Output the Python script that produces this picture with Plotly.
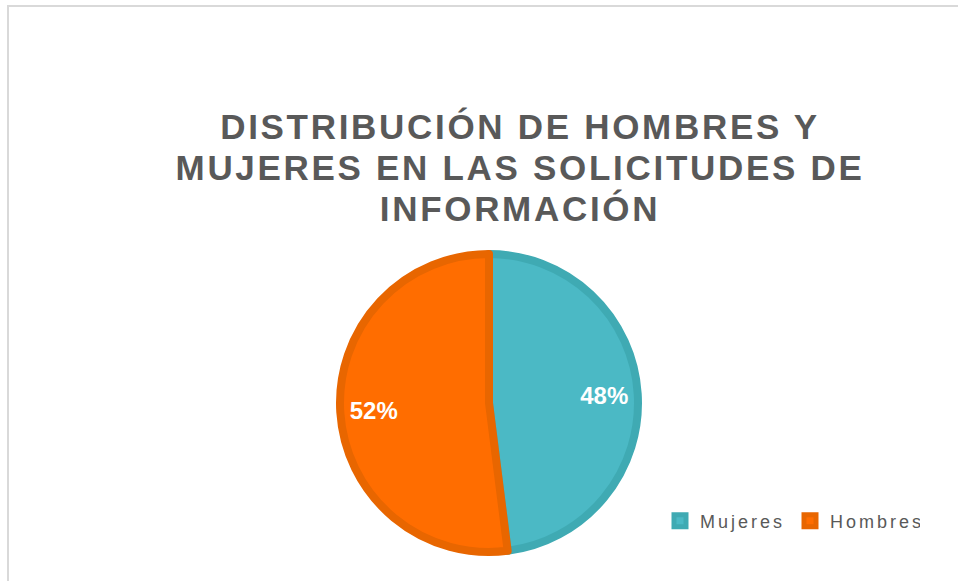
import plotly.graph_objects as go

labels = ["Mujeres", "Hombres"]
values = [48, 52]
fill_colors = ["#4BB9C5", "#FF6D00"]
edge_colors = ["#3FAAB3", "#E86600"]

TITLE = "DISTRIBUCIÓN DE HOMBRES Y<br>MUJERES EN LAS SOLICITUDES DE<br>INFORMACIÓN"
TEXT_GREY = "#595959"
W, H = 958, 581

# pie centre (489, 403) px, radius 149 px
cx, cy, r = 489, 403, 149
pie_domain = dict(
    x=[(cx - r) / W, (cx + r) / W],
    y=[(H - cy - r) / H, (H - cy + r) / H],
)

fig = go.Figure()
# filled slices + legend
fig.add_trace(
    go.Pie(
        labels=labels,
        values=values,
        sort=False,
        direction="clockwise",
        rotation=0,
        marker=dict(colors=fill_colors, line=dict(color=edge_colors, width=8)),
        textinfo="none",
        domain=pie_domain,
        hoverinfo="label+percent",
    )
)
# transparent ring on top, only to push the percent labels outwards like Excel
fig.add_trace(
    go.Pie(
        labels=labels,
        values=values,
        sort=False,
        direction="clockwise",
        rotation=0,
        hole=0.55,
        marker=dict(colors=["rgba(0,0,0,0)"] * 2, line=dict(width=0)),
        texttemplate="%{percent:.0%}",
        textposition="inside",
        insidetextorientation="horizontal",
        textfont=dict(color="white", size=24, family="Liberation Sans", weight="bold"),
        domain=pie_domain,
        showlegend=False,
        hoverinfo="skip",
    )
)

fig.update_layout(
    width=W,
    height=H,
    margin=dict(l=0, r=0, t=0, b=0),
    paper_bgcolor="white",
    plot_bgcolor="white",
    font=dict(family="Liberation Sans", color=TEXT_GREY),
    title=dict(
        text=TITLE,
        font=dict(size=35, color=TEXT_GREY, family="Liberation Sans", weight="bold"),
        x=520 / W,
        xanchor="center",
        xref="paper",
        y=(H - 139) / H,
        yanchor="top",
        yref="paper",
    ),
    legend=dict(
        orientation="h",
        x=660 / W,
        xanchor="left",
        y=(H - 521) / H,
        yanchor="middle",
        entrywidth=85,
        font=dict(size=18, color=TEXT_GREY, family="Liberation Sans"),
        bgcolor="rgba(0,0,0,0)",
    ),
    shapes=[
        dict(
            type="rect",
            xref="paper",
            yref="paper",
            x0=8 / W,
            x1=1.05,
            y0=-0.05,
            y1=(H - 6) / H,
            line=dict(color="#D9D9D9", width=2),
            layer="below",
        )
    ],
)

# Excel-like letter spacing and tighter title line spacing
post_script = """
document.body.style.margin = '0';
var gd = document.getElementById('{plot_id}');
gd.querySelectorAll('.gtitle').forEach(function(t){ t.style.letterSpacing = '2.7px'; });
gd.querySelectorAll('.gtitle tspan.line').forEach(function(s){
  var dy = parseFloat(s.getAttribute('dy'));
  if (dy) { s.setAttribute('dy', (dy * 1.17 / 1.3) + 'em'); }
});
gd.querySelectorAll('.legendtext').forEach(function(t){ t.style.letterSpacing = '3px'; });
"""

fig.write_html("out.html", post_script=post_script, config={"displayModeBar": False})
